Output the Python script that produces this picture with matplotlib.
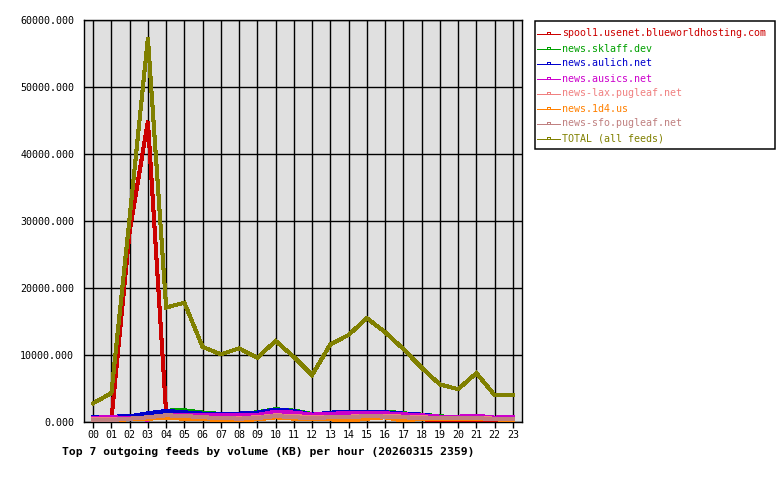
import matplotlib
matplotlib.use("Agg")
import matplotlib.pyplot as plt
from matplotlib.patches import Rectangle
from matplotlib.ticker import FuncFormatter
import numpy as np

hours = ["%02d" % h for h in range(24)]

series_names = [
    "spool1.usenet.blueworldhosting.com",
    "news.sklaff.dev",
    "news.aulich.net",
    "news.ausics.net",
    "news-lax.pugleaf.net",
    "news.1d4.us",
    "news-sfo.pugleaf.net",
    "TOTAL (all feeds)",
]
series_colors = ["#cc0000", "#00a000", "#0000cc", "#cc00cc",
                 "#f08080", "#ff8000", "#c08080", "#808000"]

spool1 = [np.nan, 300, 28400, 44900, 1400, 800, 700, 600, 600, 600, 900, 800,
          500, 600, 700, 800, 700, 600, 400, 300, 200, 300, 200, 200]
sklaff = [np.nan, np.nan, 700, 1000, 1700, 1750, 1400, 1200, 1200, 1450, 1900, 1700,
          1200, 1300, 1500, 1500, 1550, 1300, 1100, 850, 700, 700, 500, 500]
aulich = [800, 800, 850, 1300, 1650, 1450, 1250, 1250, 1250, 1400, 1850, 1650,
          1100, 1400, 1550, 1550, 1450, 1250, 1100, 800, 650, 700, 500, 500]
ausics = [650, 700, 600, 350, 1000, 1100, 1000, 1000, 1000, 1050, 1550, 1400,
          1100, 1200, 1400, 1400, 1300, 1150, 1000, 800, 800, 950, 650, 800]
lax = [400, 400, 500, 600, 900, 900, 700, 600, 600, 700, 1000, 900,
       700, 700, 800, 900, 900, 800, 700, 600, 600, 600, 500, 500]
d4 = [200, 300, 400, 500, 600, 500, 500, 200, 300, 400, 700, 500,
      400, 400, 200, 500, 700, 200, 500, 400, 400, 500, 400, 300]
sfo = [300, 300, 500, 700, 1000, 900, 700, 600, 500, 600, 900, 700,
       600, 700, 700, 900, 800, 700, 600, 600, 600, 600, 400, 500]
total = [2800, 4300, 30500, 57300, 17100, 17800, 11200, 10100, 11000, 9600, 12100, 9700,
         7000, 11600, 13000, 15500, 13400, 10900, 8100, 5600, 4900, 7300, 4000, 4000]

y_ticks = [0, 10000, 20000, 30000, 40000, 50000, 60000]

all_series = [spool1, sklaff, aulich, ausics, lax, d4, sfo, total]

W, H = 780, 480
PX = 0.72  # one pixel in points
fig = plt.figure(figsize=(W / 100, H / 100), dpi=100)
fig.patch.set_facecolor("white")
ax = fig.add_axes([84 / W, 1 - 422 / H, (522 - 84) / W, (422 - 20) / H])
ax.set_facecolor("#e0e0e0")

x = list(range(len(hours)))
for vals, col in zip(all_series, series_colors):
    ax.plot(x, vals, color=col, lw=2.2, antialiased=False, solid_joinstyle="miter", zorder=3)

ax.set_xlim(-0.5, 23.5)
ax.set_ylim(0, 60000)
ax.set_xticks(x)
ax.set_xticklabels(hours)
ax.set_yticks(y_ticks)
ax.yaxis.set_major_formatter(FuncFormatter(lambda v, p: "%.3f" % v))
ax.grid(True, color="black", lw=1, zorder=1)
ax.set_axisbelow(True)
for s in ax.spines.values():
    s.set_color("black")
    s.set_linewidth(1)

mono = "DejaVu Sans Mono"
ax.tick_params(axis="x", length=4, width=1, pad=2, labelsize=7.2, direction="out")
ax.tick_params(axis="y", length=0, pad=7, labelsize=7.2)
for lab in ax.get_xticklabels() + ax.get_yticklabels():
    lab.set_fontfamily(mono)

fig.text(62 / W, 1 - 452 / H, "Top 7 outgoing feeds by volume (KB) per hour (20260315 2359)",
         fontfamily=mono, fontweight="bold", fontsize=8.2, ha="left", va="center")

# Legend drawn in figure pixel coordinates
lax_ = fig.add_axes([0, 0, 1, 1], facecolor="none")
lax_.set_xlim(0, W)
lax_.set_ylim(H, 0)
lax_.axis("off")
lax_.add_patch(Rectangle((534.5, 20.5), 240, 128, fill=False, edgecolor="black", lw=PX * 1.5))
for i, (name, col) in enumerate(zip(series_names, series_colors)):
    yy = 33.5 + 15 * i
    lax_.plot([537, 560], [yy, yy], color=col, lw=PX, antialiased=False)
    lax_.add_patch(Rectangle((546.5, yy - 2), 3, 2, fill=False, edgecolor=col, lw=PX,
                             antialiased=False))
    lax_.text(562, yy, name, color=col, fontfamily=mono, fontsize=7.2,
              ha="left", va="center")

fig.savefig("out.png", dpi=100)
